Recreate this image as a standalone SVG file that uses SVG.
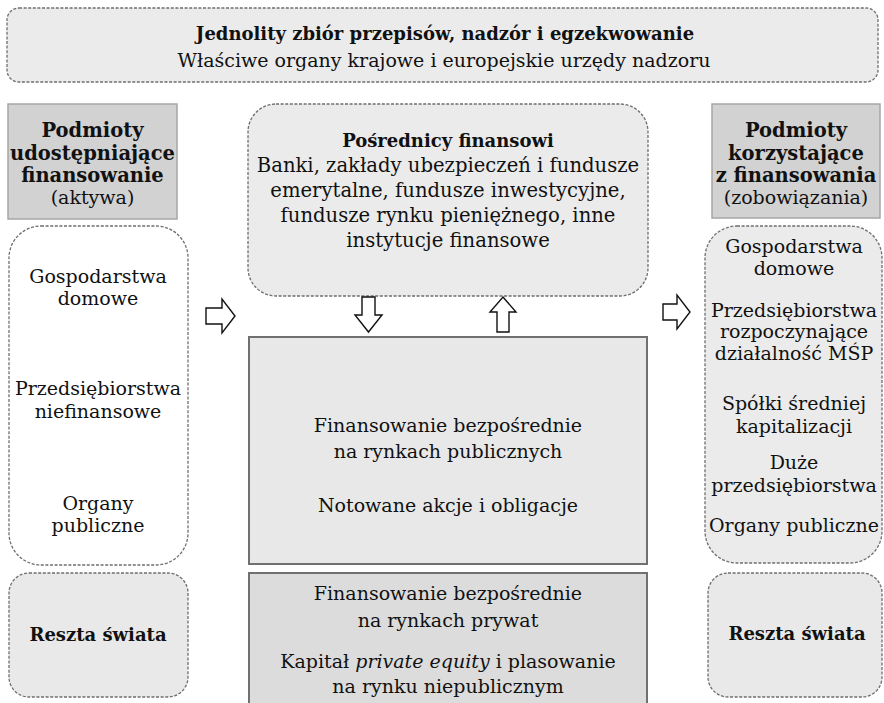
<svg xmlns="http://www.w3.org/2000/svg" width="884" height="703" viewBox="0 0 884 703">
<style>
text{font-family:"DejaVu Serif","Liberation Serif",serif;font-size:19px;fill:#111;text-anchor:middle}
.b{font-weight:bold;font-size:18px}
.hb{font-weight:bold;font-size:19.5px}
.m{font-size:19.6px}
.dash{stroke:#6e6e6e;stroke-width:1.3;stroke-dasharray:3 1.6}
.hdr{fill:#d2d2d2;stroke:#a6a6a6;stroke-width:1.5}
.solid{stroke:#707070;stroke-width:2}
.arrow{fill:#fff;stroke:#111;stroke-width:1.4;stroke-linejoin:miter}
</style>
<rect width="884" height="703" fill="#fff"/>
<g id="top">
<rect x="7" y="8" width="871" height="74" rx="12" fill="#ebebeb" class="dash"/>
<text x="445" y="40" class="b">Jednolity zbiór przepisów, nadzór i egzekwowanie</text>
<text x="444" y="67">Właściwe organy krajowe i europejskie urzędy nadzoru</text>
</g>
<g id="left-header">
<rect x="8" y="104" width="169" height="115" class="hdr"/>
<text x="92.5" y="137" class="hb">Podmioty</text>
<text x="92.5" y="160" class="hb">udostępniające</text>
<text x="92.5" y="182" class="hb">finansowanie</text>
<text x="92.5" y="204">(aktywa)</text>
</g>
<g id="left-list">
<rect x="9" y="226" width="179" height="339" rx="32" fill="#fff" class="dash"/>
<text x="98" y="283">Gospodarstwa</text>
<text x="98" y="305">domowe</text>
<text x="98" y="395">Przedsiębiorstwa</text>
<text x="98" y="418">niefinansowe</text>
<text x="98" y="510">Organy</text>
<text x="98" y="532">publiczne</text>
</g>
<g id="left-rest">
<rect x="9" y="573" width="179" height="124" rx="20" fill="#e9e9e9" class="dash"/>
<text x="98" y="641" class="b">Reszta świata</text>
</g>
<g id="intermediaries">
<rect x="248" y="104" width="400" height="192" rx="28" fill="#ebebeb" class="dash"/>
<text x="448" y="147" class="b">Pośrednicy finansowi</text>
<text x="448" y="172" class="m">Banki, zakłady ubezpieczeń i fundusze</text>
<text x="448" y="197" class="m">emerytalne, fundusze inwestycyjne,</text>
<text x="448" y="222" class="m">fundusze rynku pieniężnego, inne</text>
<text x="448" y="247" class="m">instytucje finansowe</text>
</g>
<g id="public-markets">
<rect x="249" y="337" width="398" height="227" fill="#e8e8e8" class="solid"/>
<text x="448" y="432">Finansowanie bezpośrednie</text>
<text x="448" y="458">na rynkach publicznych</text>
<text x="448" y="512">Notowane akcje i obligacje</text>
</g>
<g id="private-markets">
<rect x="249" y="573" width="398" height="140" fill="#dcdcdc" class="solid"/>
<text x="448" y="600">Finansowanie bezpośrednie</text>
<text x="448" y="627">na rynkach prywat</text>
<text x="448" y="668">Kapitał <tspan font-style="italic">private equity</tspan> i plasowanie</text>
<text x="448" y="693">na rynku niepublicznym</text>
</g>
<g id="right-header">
<rect x="712" y="104" width="168" height="114" class="hdr"/>
<text x="796" y="137" class="hb">Podmioty</text>
<text x="796" y="160" class="hb">korzystające</text>
<text x="796" y="182" class="hb">z finansowania</text>
<text x="796" y="204">(zobowiązania)</text>
</g>
<g id="right-list">
<rect x="705" y="226" width="177" height="337" rx="32" fill="#ebebeb" class="dash"/>
<text x="794" y="253">Gospodarstwa</text>
<text x="794" y="275">domowe</text>
<text x="794" y="317">Przedsiębiorstwa</text>
<text x="794" y="338">rozpoczynające</text>
<text x="794" y="360">działalność MŚP</text>
<text x="794" y="410">Spółki średniej</text>
<text x="794" y="433">kapitalizacji</text>
<text x="794" y="469">Duże</text>
<text x="794" y="492">przedsiębiorstwa</text>
<text x="794" y="532">Organy publiczne</text>
</g>
<g id="right-rest">
<rect x="708" y="573" width="174" height="124" rx="20" fill="#e9e9e9" class="dash"/>
<text x="797" y="640" class="b">Reszta świata</text>
</g>
<g id="connectors">
<polygon class="arrow" points="206,308 222,308 222,299 235,316 222,333 222,324 206,324"/>
<polygon class="arrow" points="663,304 677,304 677,295 690,312 677,329 677,320 663,320"/>
<polygon class="arrow" points="362,297 375,297 375,315 382,315 368.5,332 355,315 362,315"/>
<polygon class="arrow" points="503,297 516,312 509,312 509,332 497,332 497,312 490,312"/>
</g>
</svg>
